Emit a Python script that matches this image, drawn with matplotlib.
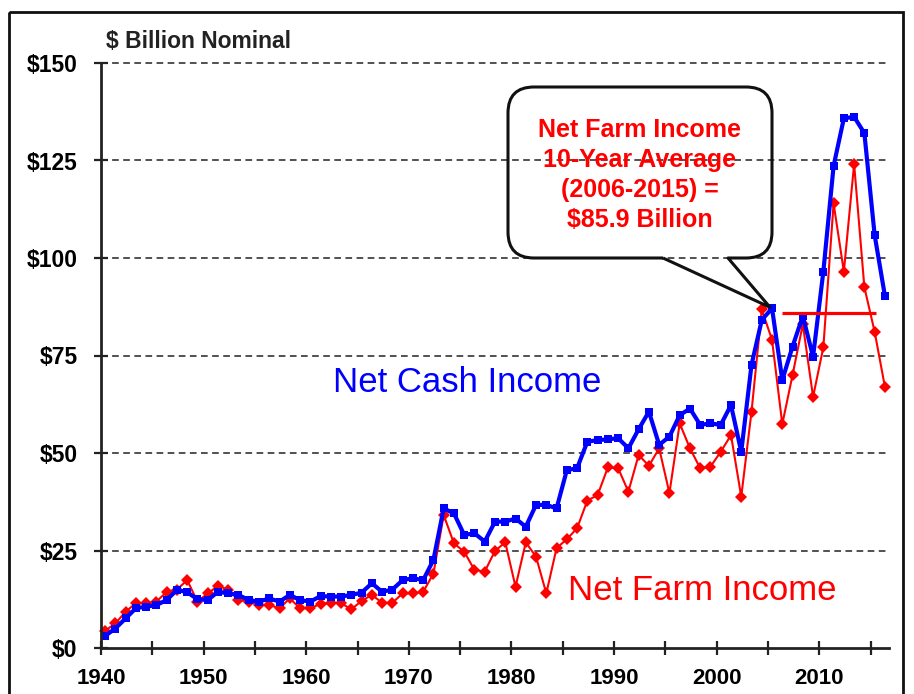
import matplotlib
matplotlib.use('Agg')
import matplotlib.pyplot as plt
import numpy as np
from matplotlib.path import Path
from matplotlib.patches import PathPatch, Rectangle
from matplotlib.transforms import Affine2D

plt.rcParams['font.family'] = ['Liberation Sans', 'DejaVu Sans']
plt.rcParams['lines.scale_dashes'] = False

# ---------------- data ----------------
years = list(range(1940, 2017))
net_cash_income = [
    3.1, 5.0, 7.6, 10.2, 10.6, 11.0, 12.3, 14.9, 14.3, 12.5,
    12.3, 14.4, 14.0, 13.6, 12.3, 11.9, 12.7, 11.9, 13.6, 12.3,
    11.9, 13.3, 13.2, 13.2, 13.6, 14.2, 16.6, 14.4, 15.0, 17.4,
    17.9, 17.4, 22.6, 35.8, 34.5, 29.0, 29.4, 27.3, 32.4, 32.4,
    33.2, 31.1, 36.7, 36.7, 35.8, 45.6, 46.1, 52.9, 53.3, 53.5,
    53.8, 51.2, 56.1, 60.6, 52.1, 54.2, 59.7, 61.4, 57.2, 57.6,
    57.2, 62.3, 50.3, 72.6, 84.1, 87.1, 68.7, 77.3, 85.1, 74.7,
    96.5, 123.6, 135.8, 136.2, 132.0, 105.9, 90.3,
]
net_farm_income = [
    4.4, 6.3, 9.3, 11.5, 11.5, 11.9, 14.4, 15.0, 17.4, 11.9,
    14.0, 15.9, 15.0, 12.3, 11.9, 11.0, 11.0, 10.2, 12.7, 10.2,
    10.2, 11.3, 11.6, 11.5, 9.9, 12.1, 13.6, 11.6, 11.6, 14.0,
    14.0, 14.4, 19.1, 34.1, 26.8, 24.7, 20.0, 19.6, 24.9, 27.1,
    15.7, 27.1, 23.4, 14.0, 25.6, 27.9, 30.7, 37.8, 39.2, 46.3,
    46.1, 40.1, 49.5, 46.7, 51.2, 39.7, 57.6, 51.2, 46.1, 46.5,
    50.3, 54.6, 38.8, 60.6, 86.8, 79.0, 57.4, 70.0, 83.0, 64.4,
    77.1, 114.0, 96.5, 124.1, 92.5, 81.1, 67.0,
]
avg_value = 85.9
avg_start, avg_end = 2006, 2015

y_ticks = [0, 25, 50, 75, 100, 125, 150]
y_tick_labels = ['$0', '$25', '$50', '$75', '$100', '$125', '$150']
x_major = [1940, 1950, 1960, 1970, 1980, 1990, 2000, 2010]
x_minor = [1945, 1955, 1965, 1975, 1985, 1995, 2005, 2015]

callout_text = "Net Farm Income\n10-Year Average\n(2006-2015) =\n$85.9 Billion"

# ---------------- figure ----------------
W, H = 914, 694
fig = plt.figure(figsize=(W / 100, H / 100), dpi=100)
px = Affine2D().scale(1 / 100, -1 / 100).translate(0, H / 100) + fig.dpi_scale_trans

ax = fig.add_axes([101 / W, 46 / H, 788 / W, 585 / H])
ax.set_xlim(1940, 2016.8)
ax.set_ylim(0, 150)

off = 0.4  # points drawn inside each year's category
x = np.array(years) + off

ax.plot(x, net_farm_income, color='#FF0000', lw=1.5, marker='D', ms=6.5,
        markeredgewidth=0, zorder=3, clip_on=False)
ax.plot(x, net_cash_income, color='#0000FF', lw=3, marker='s', ms=5.5,
        markeredgewidth=0, zorder=4, clip_on=False)
ax.hlines(avg_value, avg_start + off - 0.05, avg_end + off + 0.15, color='#FF0000',
          lw=2.3, zorder=5)

# grid / axes styling
for t in y_ticks[1:]:
    ax.axhline(t, color='#222222', lw=1.1, ls=(0, (4.8, 3.2)), zorder=1, clip_on=False)
for s in ['top', 'right']:
    ax.spines[s].set_visible(False)
for s in ['left', 'bottom']:
    ax.spines[s].set_linewidth(2)
    ax.spines[s].set_color('#222222')
    ax.spines[s].set_zorder(6)

ax.set_yticks(y_ticks)
ax.set_yticklabels(y_tick_labels)
ax.set_xticks(x_major)
ax.set_xticks(x_minor, minor=True)
ax.tick_params(axis='both', which='both', direction='inout', length=9.5, width=1.6,
               color='#222222')
ax.tick_params(axis='y', pad=12)
ax.tick_params(axis='x', pad=10)
for lab in ax.get_yticklabels():
    lab.set_fontsize(16.5)
    lab.set_fontweight('bold')
for lab in ax.get_xticklabels():
    lab.set_fontsize(16)
    lab.set_fontweight('bold')

# series labels
ax.text(1962.6, 65.6, 'Net Cash Income', color='#0000FF', fontsize=25,
        ha='left', va='baseline')
ax.text(1985.5, 12.3, 'Net Farm Income', color='#FF0000', fontsize=25,
        ha='left', va='baseline')

fig.text(106, 48, '$ Billion Nominal', transform=px, fontsize=16.5, fontweight='bold',
         ha='left', va='baseline', color='#222222')

# callout (box with wedge pointing to the 2005 net cash income point)
fig.canvas.draw()
i05 = years.index(2005)
tip_disp = ax.transData.transform((x[i05], net_cash_income[i05]))
tip = px.inverted().transform(tip_disp)
L, R, T, B, r = 508, 772, 87, 258, 26
wl, wr = 663, 728
verts = [
    (wl, B), (L + r, B), (L, B), (L, B - r), (L, T + r), (L, T), (L + r, T),
    (R - r, T), (R, T), (R, T + r), (R, B - r), (R, B), (R - r, B),
    (wr, B), (tip[0] - 2, tip[1] - 1), (wl, B),
]
codes = [Path.MOVETO, Path.LINETO, Path.CURVE3, Path.CURVE3, Path.LINETO,
         Path.CURVE3, Path.CURVE3, Path.LINETO, Path.CURVE3, Path.CURVE3,
         Path.LINETO, Path.CURVE3, Path.CURVE3, Path.LINETO, Path.LINETO,
         Path.LINETO]
callout = PathPatch(Path(verts, codes), transform=px, facecolor='none',
                    edgecolor='#111111', lw=2.2, joinstyle='round', zorder=7)
fig.add_artist(callout)
fig.text(640, 175, callout_text, transform=px, fontsize=18, fontweight='bold',
         color='#FF0000', ha='center', va='center', linespacing=1.33)

# outer frame
frame = Rectangle((9, 12), 894, 700, transform=px, fill=False, lw=2,
                  edgecolor='#111111', clip_on=False)
fig.add_artist(frame)

fig.savefig('out.png', dpi=100)
